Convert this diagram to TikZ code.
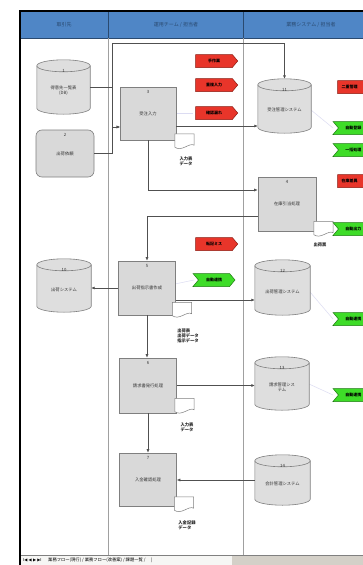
\documentclass[tikz,border=0pt]{standalone}
\usepackage{fontspec}
\newfontfamily\jp{Noto Sans CJK JP}
\newfontfamily\djv{DejaVu Sans}
\usetikzlibrary{shapes.symbols,arrows.meta,calc}
\definecolor{hdrblue}{HTML}{4F86C6}
\definecolor{hdrline}{HTML}{2A4A70}
\definecolor{boxgray}{HTML}{D9D9D9}
\definecolor{cylgray}{HTML}{DEDEDE}
\definecolor{edgegray}{HTML}{7F7F7F}
\definecolor{linegray}{HTML}{505050}
\definecolor{lanegray}{HTML}{A0A0A0}
\definecolor{tagred}{HTML}{E8352A}
\definecolor{tagredd}{HTML}{8A1A10}
\definecolor{taggreen}{HTML}{3EDC28}
\definecolor{taggreend}{HTML}{1E7A12}
\definecolor{faintblue}{HTML}{DCDCF2}
\definecolor{bargray}{HTML}{D4D0C8}
\newcommand\cyldraw[1]{%
  \path[draw=edgegray, fill=cylgray, line width=0.6pt]
    let \p1=(#1.north west), \p2=(#1.south east), \n1={(\x2-\x1)/2} in
    (\x1,\y1-6pt) -- (\x1,\y2+6pt)
    arc[start angle=180, end angle=360, x radius=\n1, y radius=6pt]
    -- (\x2,\y1-6pt)
    arc[start angle=0, end angle=180, x radius=\n1, y radius=6pt] -- cycle;
  \path[draw=edgegray, line width=0.6pt]
    let \p1=(#1.north west), \p2=(#1.south east), \n1={(\x2-\x1)/2} in
    (\x1,\y1-6pt) arc[start angle=180, end angle=360, x radius=\n1, y radius=6pt];}
\newcommand\docdraw[1]{%
  \path[draw=edgegray, fill=white, line width=0.5pt]
    let \p1=(#1.north west), \p2=(#1.south east) in
    (\x1,\y1) -- (\x2,\y1) -- (\x2,\y2+3pt)
    .. controls (\x2-5pt,\y2+6pt) and (\x1+7pt,\y2-4pt) .. (\x1,\y2+1pt) -- cycle;}
\begin{document}
\begin{tikzpicture}[x=1pt,y=-1pt,
  lbl/.style={font=\jp\fontsize{4.3}{5.2}\selectfont, align=center, text={black!80}, inner sep=0pt},
  doccap/.style={font=\jp\bfseries\fontsize{4.3}{5.2}\selectfont, align=left, text={black!85}, inner sep=0pt},
  hdr/.style={font=\jp\fontsize{5}{6}\selectfont, text=hdrline, inner sep=0pt},
  proc/.style={lbl, draw=edgegray, fill=boxgray, line width=0.6pt},
  cylnode/.style={inner sep=0pt},
  docnode/.style={minimum width=19pt, minimum height=14pt, inner sep=0pt},
  conn/.style={draw=linegray, line width=0.6pt, -{Latex[length=3.5pt,width=3pt]}},
  tagbase/.style={signal, signal to=east, signal pointer angle=100, minimum width=42pt,
    minimum height=13pt, inner sep=0pt, font=\jp\bfseries\fontsize{4}{4}\selectfont, line width=0.5pt},
  redtag/.style={tagbase, fill=tagred, draw=tagredd},
  greentag/.style={tagbase, signal from=west, fill=taggreen, draw=taggreend},
  tagtext/.style={font=\jp\bfseries\fontsize{4}{4}\selectfont, anchor=west, inner sep=0pt},
  faint/.style={draw=faintblue, line width=0.5pt},
  lane/.style={draw=lanegray, line width=0.6pt}]
\useasboundingbox (0,0) rectangle (363,565);
\clip (0,0) rectangle (363,565);
\fill[white] (0,0) rectangle (363,565);
% header
\fill[hdrblue] (21,12) rectangle (363,38);
\draw[hdrline, line width=0.6pt] (21,38) -- (363,38);
\draw[hdrline, line width=0.6pt] (108,12) -- (108,38) (243,12) -- (243,38);
\node[hdr] (h1) at (64,25) {取引先};
\node[hdr] (h2) at (176,25) {運用チーム / 担当者};
\node[hdr] (h3) at (311,25) {業務システム / 担当者};
% lanes
\draw[lane] (108,38) -- (108,555) (243,38) -- (243,555);
% frame
\draw[black, line width=1.5pt] (20,11) -- (363,11);
\draw[black, line width=2pt] (20,10) -- (20,565);
% bottom bar
\fill[bargray] (21,555) rectangle (363,565);
\fill[white!80!bargray] (21,555) rectangle (232,565);
\draw[gray, line width=0.4pt] (21,555) -- (363,555);
\node[font=\djv\fontsize{4}{4}\selectfont, anchor=west, inner sep=0pt] (tabnav) at (23,560) {I◀ ◀ ▶ ▶I};
\node[font=\jp\fontsize{4.3}{4.3}\selectfont, anchor=west, inner sep=0pt] (tabs) at (48,560) {業務フロー(現行) / 業務フロー(改善案) / 課題一覧 / \quad |};

% faint links
\draw[faint] (176,113) -- (193,113);
\draw[faint] (311,110) -- (333,128);
\draw[faint] (175,284) -- (194,280);
\draw[faint] (310,292) -- (333,319);
\draw[faint] (309,384) -- (333,395);

% cylinders
\node[cylnode, minimum width=53pt, minimum height=54pt] (A) at (63.5,87) {};
\node[cylnode, minimum width=53pt, minimum height=54pt] (D) at (284.5,106) {};
\node[cylnode, minimum width=54pt, minimum height=53pt] (F) at (64,285.5) {};
\node[cylnode, minimum width=55pt, minimum height=55pt] (H) at (282.5,287.5) {};
\node[cylnode, minimum width=54pt, minimum height=53pt] (J) at (282,383.5) {};
\node[cylnode, minimum width=55pt, minimum height=50pt] (L) at (282.5,480) {};
\cyldraw{A}\cyldraw{D}\cyldraw{F}\cyldraw{H}\cyldraw{J}\cyldraw{L}
\node[lbl] at ($(A.north)+(0,11)$) {1};
\node[lbl] at ($(A)+(0,4)$) {得意先一覧表\\(DB)};
\node[lbl] at ($(D.north)+(0,11)$) {11};
\node[lbl] at ($(D)+(0,4)$) {受注管理システム};
\node[lbl] at ($(F.north)+(0,11)$) {10};
\node[lbl] at ($(F)+(0,4)$) {出荷システム};
\node[lbl] at ($(H.north)+(0,11)$) {12};
\node[lbl] at ($(H)+(0,4)$) {出荷管理システム};
\node[lbl] at ($(J.north)+(0,11)$) {13};
\node[lbl] at ($(J)+(0,4)$) {請求管理シス\\テム};
\node[lbl] at ($(L.north)+(0,11)$) {14};
\node[lbl] at ($(L)+(0,4)$) {会計管理システム};

% rounded box
\node[proc, rounded corners=6pt, minimum width=58pt, minimum height=47pt] (B) at (65,153.5) {出荷依頼};
\node[lbl] at ($(B.north)+(0,5)$) {2};

% process boxes
\node[proc, minimum width=56pt, minimum height=53pt] (C) at (148,113.5) {受注入力};
\node[proc, minimum width=58pt, minimum height=54pt] (E) at (287,204) {在庫引当処理};
\node[proc, minimum width=57pt, minimum height=54pt] (G) at (147,288) {出荷指示書作成};
\node[proc, minimum width=57pt, minimum height=55pt] (I) at (148,385.5) {請求書発行処理};
\node[proc, minimum width=57pt, minimum height=53pt] (K) at (148,479.5) {入金確認処理};
\node[lbl] at ($(C.north)+(0,5)$) {3};
\node[lbl] at ($(E.north)+(0,5)$) {4};
\node[lbl] at ($(G.north)+(0,5)$) {5};
\node[lbl] at ($(I.north)+(0,5)$) {6};
\node[lbl] at ($(K.north)+(0,5)$) {7};

% documents
\node[docnode] (dC) at (184.5,141) {};
\node[docnode] (dE) at (323.5,228.5) {};
\node[docnode] (dG) at (182,309.5) {};
\node[docnode] (dI) at (184.5,405.5) {};
\node[docnode] (dK) at (184,504) {};
\docdraw{dC}\docdraw{dE}\docdraw{dG}\docdraw{dI}\docdraw{dK}
\node[doccap] (cC) at (186,161) {入力表\\データ};
\node[doccap] (cE) at (320,245) {出荷票};
\node[doccap] (cG) at (188,336) {出荷表\\出荷データ\\指示データ};
\node[doccap] (cI) at (187,427) {入力表\\データ};
\node[doccap] (cK) at (187,525) {入金記録\\データ};

% tags (middle lane)
\node[redtag] (r1) at (214,61) {手作業};
\node[redtag] (r2) at (214,85) {重複入力};
\node[redtag] (r3) at (214,113) {確認漏れ};
\node[redtag] (r4) at (214,244) {転記ミス};
\node[greentag] (g1) at (214,280) {自動連携};
% tags (right lane, cut off by the page edge)
\node[redtag] (r5) at (356,87) {};
\node[redtag] (r6) at (356,181) {};
\node[greentag] (g2) at (354,128) {};
\node[greentag] (g3) at (354,150) {};
\node[greentag] (g4) at (354,229) {};
\node[greentag] (g5) at (354,319) {};
\node[greentag] (g6) at (354,395) {};
\node[tagtext] at ($(r5.west)+(4,0)$) {二重管理};
\node[tagtext] at ($(r6.west)+(4,0)$) {在庫差異};
\node[tagtext] at ($(g2.west)+(7,0)$) {自動登録};
\node[tagtext] at ($(g3.west)+(7,0)$) {一括処理};
\node[tagtext] at ($(g4.west)+(7,0)$) {自動出力};
\node[tagtext] at ($(g5.west)+(7,0)$) {自動連携};
\node[tagtext] at ($(g6.west)+(7,0)$) {自動連携};

% connectors
\coordinate (j1) at (112,43);
\coordinate (j2) at (112,127);
\coordinate (cin) at (120,127);
\coordinate (cd) at (0,126);
\coordinate (ce) at (0,190);
\coordinate (eg) at (0,216);
\coordinate (gh) at (0,300);
\draw[conn] (A.east) -| (j1) -| (D.north);
\draw[conn] (A.east) -| (j2) -- (cin);
\draw[conn] (B.east) -| (j2) -- (cin);
\draw[conn] (C.east|-cd) -- (D.west|-cd);
\draw[conn] (C.south) |- (E.west|-ce);
\draw[conn] (E.west|-eg) -| (G.north);
\draw[conn] (G.west) -- (F.east|-G.west);
\draw[conn] (G.east|-gh) -- (H.west|-gh);
\draw[conn] (G.south) -- (G.south|-I.north);
\draw[conn] (I.east) -- (J.west|-I.east);
\draw[conn] (I.south) -- (K.north);
\draw[conn] (L.west) -- (K.east|-L.west);
\end{tikzpicture}
\end{document}
